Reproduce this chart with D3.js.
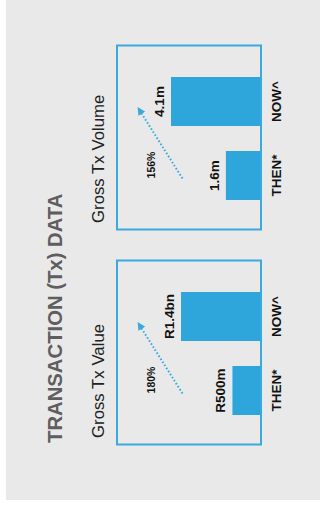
<!DOCTYPE html>
<html>
<head>
<meta charset="utf-8">
<script src="https://cdn.jsdelivr.net/npm/d3@7"></script>
<style>
  html, body { margin: 0; padding: 0; background: #ffffff; }
  svg { display: block; }
</style>
</head>
<body>
<div id="chart"></div>
<script>
// Transaction data: two small panels, then vs now
const title = "TRANSACTION (Tx) DATA";
const panelTitles = ["Gross Tx Value", "Gross Tx Volume"];
const categories = ["THEN*", "NOW^"];
const valueSeries = [500, 1400];          // R millions
const valueLabels = ["R500m", "R1.4bn"];
const volumeSeries = [1.6, 4.1];          // millions of transactions
const volumeLabels = ["1.6m", "4.1m"];
const growthLabels = ["180%", "156%"];

const W = 320, H = 507;
const BLUE = "#2ea6dc";
const BORDER = "#3aa9e0";
const FONT = "'Liberation Sans', Arial, Helvetica, sans-serif";

const svg = d3.select("#chart").append("svg")
  .attr("width", W).attr("height", H);

// panel backdrop
svg.append("rect")
  .attr("x", 6).attr("y", 0)
  .attr("width", W - 6).attr("height", 500)
  .attr("fill", "#e9e9e9");

svg.append("defs").append("marker")
  .attr("id", "arrowHead")
  .attr("viewBox", "0 0 10 10")
  .attr("refX", 2).attr("refY", 5)
  .attr("markerUnits", "userSpaceOnUse")
  .attr("markerWidth", 8).attr("markerHeight", 8)
  .attr("orient", "auto-start-reverse")
  .append("path")
  .attr("d", "M0,0 L10,5 L0,10 Z")
  .attr("fill", BORDER);

// Whole graphic reads bottom-to-top: draw in a rotated frame
const g = svg.append("g")
  .attr("transform", `translate(0,${H}) rotate(-90)`);

g.append("text")
  .attr("x", 64).attr("y", 62)
  .attr("font-family", FONT)
  .attr("font-weight", "bold")
  .attr("font-size", 20.3)
  .attr("fill", "#5e5e5e")
  .text(title);

const boxW = 184, boxH = 144, boxY = 117;
const panels = [
  { title: panelTitles[0], x0: 62.5, values: valueSeries, labels: valueLabels,
    growth: growthLabels[0],
    y: d3.scaleLinear().domain([0, 1400]).range([0, 80]) },
  { title: panelTitles[1], x0: 277.5, values: volumeSeries, labels: volumeLabels,
    growth: growthLabels[1],
    y: d3.scaleLinear().domain([0, 4.1]).range([0, 90]) }
];

panels.forEach(p => {
  const pg = g.append("g").attr("transform", `translate(${p.x0},0)`);

  pg.append("text")
    .attr("x", 6.5).attr("y", 103.5)
    .attr("font-family", FONT)
    .attr("font-size", 16.8)
    .attr("fill", "#222")
    .text(p.title);

  const x = d3.scaleBand()
    .domain(categories)
    .range([29.5, 152.5])
    .paddingInner(0.338)
    .paddingOuter(0);

  const base = boxY + boxH;
  const rows = categories.map((c, i) => ({ cat: c, v: p.values[i], label: p.labels[i] }));

  pg.selectAll("rect.bar").data(rows).enter().append("rect")
    .attr("class", "bar")
    .attr("x", d => x(d.cat))
    .attr("y", d => base - p.y(d.v))
    .attr("width", x.bandwidth())
    .attr("height", d => p.y(d.v))
    .attr("fill", BLUE);

  pg.append("rect")
    .attr("x", 0).attr("y", boxY)
    .attr("width", boxW).attr("height", boxH)
    .attr("fill", "none")
    .attr("stroke", BORDER)
    .attr("stroke-width", 2);

  pg.selectAll("text.val").data(rows).enter().append("text")
    .attr("class", "val")
    .attr("x", d => x(d.cat) + x.bandwidth() / 2)
    .attr("y", d => base - p.y(d.v) - 7)
    .attr("text-anchor", "middle")
    .attr("font-family", FONT)
    .attr("font-weight", "bold")
    .attr("font-size", 13.5)
    .attr("fill", "#111")
    .text(d => d.label);

  pg.selectAll("text.cat").data(rows).enter().append("text")
    .attr("class", "cat")
    .attr("x", d => x(d.cat) + x.bandwidth() / 2)
    .attr("y", 281)
    .attr("text-anchor", "middle")
    .attr("font-family", FONT)
    .attr("font-weight", "bold")
    .attr("font-size", 13.5)
    .attr("fill", "#111")
    .text(d => d.cat);

  // growth arrow
  pg.append("line")
    .attr("x1", 51).attr("y1", 182.5)
    .attr("x2", 117).attr("y2", 141)
    .attr("stroke", BORDER)
    .attr("stroke-width", 2)
    .attr("stroke-dasharray", "1.6,2")
    .attr("marker-end", "url(#arrowHead)");

  pg.append("text")
    .attr("x", 64.5).attr("y", 155)
    .attr("text-anchor", "middle")
    .attr("font-family", FONT)
    .attr("font-weight", "bold")
    .attr("font-size", 10.5)
    .attr("fill", "#111")
    .text(p.growth);
});
</script>
</body>
</html>
